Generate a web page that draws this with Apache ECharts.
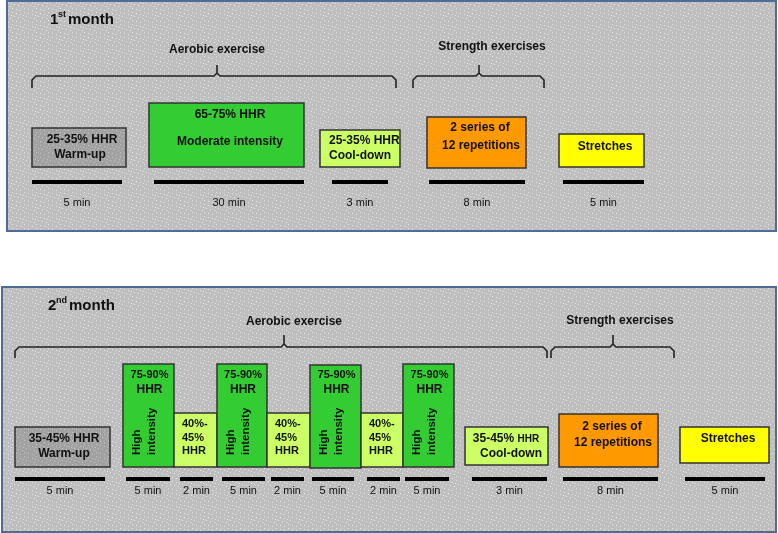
<!DOCTYPE html>
<html><head><meta charset="utf-8">
<script src="https://cdn.jsdelivr.net/npm/echarts@6/dist/echarts.min.js"></script>
<style>html,body{margin:0;padding:0;background:#fff}#c{width:778px;height:533px}</style>
</head><body><div id="c"></div>
<script>
// ---------------- DATA ----------------
const monthNumbers = ["1", "2"];
const monthSuffix = ["st", "nd"];
const monthWord = "month";
const groupNames = ["Aerobic exercise", "Strength exercises"];
const month1BoxText = [
  ["25-35% HHR", "Warm-up"],
  ["65-75% HHR", "Moderate intensity"],
  ["25-35% HHR", "Cool-down"],
  ["2 series of", "12 repetitions"],
  ["Stretches"]
];
const month1Minutes = [5, 30, 3, 8, 5];
const highText = ["75-90%", "HHR"];
const highRotText = ["High", "intensity"];
const lowText = ["40%-", "45%", "HHR"];
const month2BoxText = [
  ["35-45% HHR", "Warm-up"],
  highText, lowText, highText, lowText, highText, lowText, highText,
  ["35-45%|HHR", "Cool-down"],
  ["2 series of", "12 repetitions"],
  ["Stretches"]
];
const month2Kinds = ["plain", "high", "low", "high", "low", "high", "low", "high", "plain", "plain", "plain"];
const month2Minutes = [5, 5, 2, 5, 2, 5, 2, 5, 3, 8, 5];
const unit = "min";

// ---------------- LAYOUT / STYLE ----------------
const GRAY = '#a4a4a4', GREEN = '#33cc33', LIGHT = '#ccff66', ORANGE = '#ff9900', YELLOW = '#ffff00';
const panels = [[7, 1, 776, 231], [2, 287, 776, 532]];
const titlePos = [[50, 20], [48, 306]];
const box1 = [
  {r: [32, 128, 126, 167], f: GRAY, t: [[82, 140, 'center'], [80, 155, 'center']]},
  {r: [149, 103, 304, 167], f: GREEN, t: [[230, 115, 'center'], [230, 142, 'center']]},
  {r: [320, 130, 400, 167], f: LIGHT, t: [[329, 141, 'left'], [329, 156, 'left']]},
  {r: [427, 117, 526, 168], f: ORANGE, t: [[480, 128, 'center'], [481, 146, 'center']]},
  {r: [559, 134, 644, 167], f: YELLOW, t: [[605, 147, 'center']]}
];
const bars1 = [[32, 122], [154, 304], [332, 388], [429, 525], [563, 644]];
const barY1 = 182, labY1 = 203;
const box2 = [
  [15, 427, 110, 467, GRAY], [123, 364, 174, 467, GREEN], [174, 413, 217, 467, LIGHT],
  [217, 364, 267, 467, GREEN], [267, 413, 310, 467, LIGHT], [310, 365, 361, 468, GREEN],
  [361, 413, 403, 467, LIGHT], [403, 364, 454, 467, GREEN], [465, 427, 548, 465, LIGHT],
  [559, 414, 658, 467, ORANGE], [680, 427, 769, 463, YELLOW]
];
const plainText2 = {0: [[64, 439], [64, 454]], 8: [[506, 439], [511, 454]], 9: [[612, 427], [613, 443]], 10: [[728, 439]]};
const bars2 = [[15, 105], [126, 170], [180, 213], [222, 265], [271, 304], [312, 354], [367, 400], [405, 449], [472, 547], [563, 658], [685, 765]];
const barY2 = 479, labY2 = 491;
const braces = [
  {x: [32, 396], c: 217, y: 76, d: 88, tip: 65, tx: [217, 50], g: 0},
  {x: [413, 544], c: 479, y: 76, d: 88, tip: 65, tx: [492, 47], g: 1},
  {x: [15, 547], c: 284, y: 347, d: 358, tip: 335, tx: [294, 322], g: 0},
  {x: [551, 674], c: 613, y: 347, d: 358, tip: 335, tx: [620, 321], g: 1}
];
const FONT = '"Liberation Sans", Arial, sans-serif';
const B12 = 'bold 12px ' + FONT;
const B11 = 'bold 11px ' + FONT;

// stippled background pattern (deterministic)
function makePattern(base, dot) {
  const cv = document.createElement('canvas');
  cv.width = 12; cv.height = 12;
  const g = cv.getContext('2d');
  g.fillStyle = base; g.fillRect(0, 0, 12, 12);
  g.fillStyle = dot;
  [[0, 0], [4, 1], [8, 2], [2, 4], [6, 5], [10, 6], [0, 8], [4, 9], [8, 10], [11, 3]].forEach(p => g.fillRect(p[0], p[1], 1, 1));
  return {image: cv, repeat: 'repeat'};
}
const panelFill = makePattern('#bfbfbf', '#e6e6e6');
const grayFill = makePattern('#a2a2a2', '#c4c4c4');

const chart = echarts.init(document.getElementById('c'), null, {renderer: 'canvas'});

function renderAll(params, api) {
  const P = (x, y) => api.coord([x, y]);
  const ch = [];
  const rect = (x0, y0, x1, y1, style) => {
    const a = P(x0, y0), b = P(x1, y1);
    ch.push({type: 'rect', shape: {x: a[0], y: a[1], width: b[0] - a[0], height: b[1] - a[1]}, style});
  };
  const text = (x, y, s, font, align, extra) => {
    const p = P(x, y);
    ch.push(Object.assign({type: 'text', x: p[0], y: p[1], style: {text: s, font, fill: '#111', align: align || 'center', verticalAlign: 'middle'}}, extra || {}));
  };
  panels.forEach(pn => rect(pn[0], pn[1], pn[2], pn[3], {fill: panelFill, stroke: '#4d6c96', lineWidth: 2}));
  titlePos.forEach((tp, i) => {
    text(tp[0], tp[1], monthNumbers[i], 'bold 15px ' + FONT, 'left');
    text(tp[0] + 8, tp[1] - 5, monthSuffix[i], 'bold 9px ' + FONT, 'left');
    text(tp[0] + 8 + (i ? 13 : 10), tp[1], monthWord, 'bold 15px ' + FONT, 'left');
  });
  braces.forEach(b => {
    const pts = [[b.x[0], b.d], [b.x[0], b.y + 4], [b.x[0] + 4, b.y], [b.c - 3, b.y], [b.c, b.y - 3], [b.c, b.tip], [b.c, b.y - 3], [b.c + 3, b.y], [b.x[1] - 4, b.y], [b.x[1], b.y + 4], [b.x[1], b.d]].map(q => P(q[0], q[1]));
    ch.push({type: 'polyline', shape: {points: pts}, style: {stroke: '#222', lineWidth: 1.6, fill: null}});
    text(b.tx[0], b.tx[1], groupNames[b.g], B12, 'center');
  });
  box1.forEach((bx, i) => {
    rect(bx.r[0], bx.r[1], bx.r[2], bx.r[3], {fill: bx.f === GRAY ? grayFill : bx.f, stroke: '#333', lineWidth: 1.5});
    month1BoxText[i].forEach((s, k) => text(bx.t[k][0], bx.t[k][1], s, B12, bx.t[k][2]));
  });
  bars1.forEach((br, i) => {
    rect(br[0], barY1 - 2, br[1], barY1 + 2, {fill: '#000'});
    text((br[0] + br[1]) / 2, labY1, month1Minutes[i] + ' ' + unit, '11px ' + FONT, 'center');
  });
  box2.forEach((bx, i) => {
    rect(bx[0], bx[1], bx[2], bx[3], {fill: bx[4] === GRAY ? grayFill : bx[4], stroke: '#333', lineWidth: 1.5});
    const kind = month2Kinds[i];
    const cx = (bx[0] + bx[2]) / 2;
    if (kind === 'high') {
      text(cx + 1, 375, month2BoxText[i][0], B11, 'center');
      text(cx + 1, 390, month2BoxText[i][1], B12, 'center');
      const p1 = P(bx[0] + 14, 455), p2 = P(bx[0] + 29, 455);
      ch.push({type: 'text', x: p1[0], y: p1[1], rotation: Math.PI / 2, style: {text: highRotText[0], font: 'bold 11.5px ' + FONT, fill: '#111', align: 'left', verticalAlign: 'middle'}});
      ch.push({type: 'text', x: p2[0], y: p2[1], rotation: Math.PI / 2, style: {text: highRotText[1], font: 'bold 11.5px ' + FONT, fill: '#111', align: 'left', verticalAlign: 'middle'}});
    } else if (kind === 'low') {
      [424, 438, 451].forEach((yy, k) => text(bx[0] + 8, yy, month2BoxText[i][k], B11, 'left'));
    } else {
      month2BoxText[i].forEach((s, k) => {
        const pos = plainText2[i][k];
        if (s.indexOf('|') >= 0) {
          const parts = s.split('|');
          const p = P(pos[0], pos[1]);
          ch.push({type: 'text', x: p[0], y: p[1], style: {
            text: '{a|' + parts[0] + '} {b|' + parts[1] + '}', fill: '#111', align: 'center', verticalAlign: 'middle',
            rich: {a: {font: B12, fill: '#111'}, b: {font: 'bold 10px ' + FONT, fill: '#111'}}}});
        } else {
          text(pos[0], pos[1], s, B12, 'center');
        }
      });
    }
  });
  bars2.forEach((br, i) => {
    rect(br[0], barY2 - 2, br[1], barY2 + 2, {fill: '#000'});
    text((br[0] + br[1]) / 2, labY2, month2Minutes[i] + ' ' + unit, '11px ' + FONT, 'center');
  });
  return {type: 'group', children: ch};
}

chart.setOption({
  animation: false,
  backgroundColor: '#ffffff',
  grid: {left: 0, right: 0, top: 0, bottom: 0},
  xAxis: {type: 'value', min: 0, max: 778, show: false},
  yAxis: {type: 'value', min: 0, max: 533, inverse: true, show: false},
  series: [{type: 'custom', coordinateSystem: 'cartesian2d', data: [[0, 0]], renderItem: renderAll, silent: true, clip: false}]
});
</script>
</body></html>
